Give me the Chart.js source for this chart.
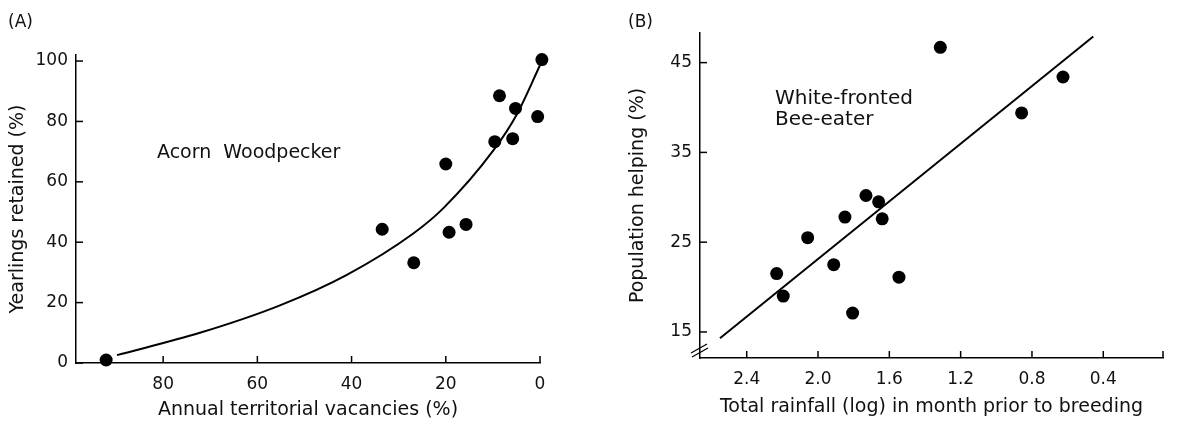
<!DOCTYPE html>
<html>
<head>
<meta charset="utf-8">
<script src="https://cdn.jsdelivr.net/npm/chart.js@4.4.1/dist/chart.umd.min.js"></script>
<style>
html,body{margin:0;padding:0;background:#fff;}
#wrap{position:relative;width:1181px;height:423px;overflow:hidden;background:#fff;}
#ca{position:absolute;left:0;top:0;}
#cb{position:absolute;left:590px;top:0;}
</style>
</head>
<body>
<div id="wrap">
<canvas id="ca" width="590" height="423"></canvas>
<canvas id="cb" width="591" height="423"></canvas>
</div>
<script>
// ---------- Panel A: Acorn Woodpecker ----------
const acornVacancies = [92.1, 33.5, 26.8, 20.0, 19.3, 15.7, 9.6, 8.6, 5.8, 5.2, 0.5, -0.4, -1.4];
const acornRetained  = [1.0, 44.3, 33.2, 65.9, 43.3, 45.9, 73.3, 88.5, 74.3, 84.3, 81.6, 100.5, 83.5];
// fitted curve
const acornCurveX = [89.8, 72.2, 55.2, 41.0, 26.9, 20.5, 9.9, 4.9, 0.0];
const acornCurveY = [2.6, 10.0, 19.1, 29.2, 42.9, 51.3, 70.4, 82.4, 98.6];
const acornXTicks = [80, 60, 40, 20, 0];
const acornYTicks = [0, 20, 40, 60, 80, 100];

// ---------- Panel B: White-fronted Bee-eater ----------
const beeRainfall = [2.232, 2.195, 2.058, 1.912, 1.849, 1.806, 1.731, 1.660, 1.640, 1.546, 1.314, 0.858, 0.626];
const beeHelping  = [21.5, 19.0, 25.5, 22.5, 27.8, 17.1, 30.2, 29.5, 27.6, 21.1, 46.7, 39.4, 43.4];
// regression line end points
const beeFitX = [2.55, 0.456];
const beeFitY = [14.3, 47.9];
const beeXTicks = [2.4, 2.0, 1.6, 1.2, 0.8, 0.4];
const beeYTicks = [15, 25, 35, 45];

const FONT = '"DejaVu Sans", "Open Sans", sans-serif';
const INK = '#111';

function pts(xs, ys){ return xs.map((x,i)=>({x:x, y:ys[i]})); }

const axisPlugin = {
  id: 'axisDecor',
  afterDraw(chart, args, opts){
    const ctx = chart.ctx, a = chart.chartArea;
    const xs = chart.scales.x, ys = chart.scales.y;
    ctx.save();
    ctx.strokeStyle = '#000';
    ctx.lineWidth = 1.5;
    const L = 7;
    xs.ticks.forEach(t=>{
      const px = xs.getPixelForValue(t.value);
      ctx.beginPath(); ctx.moveTo(px, a.bottom); ctx.lineTo(px, a.bottom - L); ctx.stroke();
    });
    ys.ticks.forEach(t=>{
      const py = ys.getPixelForValue(t.value);
      ctx.beginPath(); ctx.moveTo(a.left, py); ctx.lineTo(a.left + L, py); ctx.stroke();
    });
    if (opts.endHook){
      ctx.beginPath(); ctx.moveTo(a.right, a.bottom); ctx.lineTo(a.right, a.bottom - L); ctx.stroke();
    }
    if (opts.breakMark){
      ctx.lineWidth = 1.3;
      ctx.beginPath(); ctx.moveTo(a.left - 9, a.bottom - 5); ctx.lineTo(a.left + 7, a.bottom - 14); ctx.stroke();
      ctx.beginPath(); ctx.moveTo(a.left - 8, a.bottom - 1); ctx.lineTo(a.left + 8, a.bottom - 10); ctx.stroke();
    }
    ctx.fillStyle = INK;
    ctx.textBaseline = 'middle';
    ctx.textAlign = 'left';
    (opts.texts || []).forEach(t=>{
      ctx.font = t.size + 'px ' + FONT;
      ctx.fillText(t.text, t.x, t.y);
    });
    ctx.restore();
  }
};

function tickFont(){ return {family: FONT, size: 17}; }
function titleFont(){ return {family: FONT, size: 19}; }

Chart.defaults.color = INK;

// ---------- Chart A ----------
new Chart(document.getElementById('ca'), {
  type: 'scatter',
  data: {
    datasets: [
      {
        data: pts(acornCurveX, acornCurveY),
        showLine: true,
        borderColor: '#000',
        borderWidth: 2,
        pointRadius: 0,
        cubicInterpolationMode: 'monotone',
        clip: false
      },
      {
        data: pts(acornVacancies, acornRetained),
        backgroundColor: '#000',
        borderWidth: 0,
        pointRadius: 6.5,
        clip: false
      }
    ]
  },
  options: {
    responsive: false,
    animation: false,
    devicePixelRatio: 1,
    events: [],
    layout: {padding: {left: 0, top: 55, right: 50, bottom: 0}},
    plugins: {
      legend: {display: false},
      tooltip: {enabled: false},
      axisDecor: {
        texts: [
          {text: '(A)', x: 8, y: 23, size: 17},
          {text: 'Acorn  Woodpecker', x: 157, y: 153, size: 19}
        ]
      }
    },
    scales: {
      x: {
        type: 'linear', reverse: true, min: 0, max: 98.5,
        afterBuildTicks: s => { s.ticks = acornXTicks.map(v => ({value: v})); },
        afterFit: s => { s.height = 60; },
        grid: {display: false, drawTicks: false},
        border: {display: true, color: '#000', width: 1.5},
        ticks: {padding: 11, font: tickFont(), color: INK, maxRotation: 0, autoSkip: false},
        title: {display: true, text: 'Annual territorial vacancies (%)', font: titleFont(), color: INK, padding: {top: 0, bottom: 2}}
      },
      y: {
        type: 'linear', min: 0, max: 102,
        afterBuildTicks: s => { s.ticks = acornYTicks.map(v => ({value: v})); },
        afterFit: s => { s.width = 76; },
        grid: {display: false, drawTicks: false},
        border: {display: true, color: '#000', width: 1.5},
        ticks: {padding: 8, font: tickFont(), color: INK, autoSkip: false},
        title: {display: true, text: 'Yearlings retained (%)', font: titleFont(), color: INK, padding: {top: 7, bottom: 0}}
      }
    }
  },
  plugins: [axisPlugin]
});

// ---------- Chart B ----------
new Chart(document.getElementById('cb'), {
  type: 'scatter',
  data: {
    datasets: [
      {
        data: pts(beeFitX, beeFitY),
        showLine: true,
        borderColor: '#000',
        borderWidth: 2,
        pointRadius: 0,
        tension: 0,
        clip: false
      },
      {
        data: pts(beeRainfall, beeHelping),
        backgroundColor: '#000',
        borderWidth: 0,
        pointRadius: 6.5,
        clip: false
      }
    ]
  },
  options: {
    responsive: false,
    animation: false,
    devicePixelRatio: 1,
    events: [],
    layout: {padding: {left: 0, top: 33, right: 18, bottom: 0}},
    plugins: {
      legend: {display: false},
      tooltip: {enabled: false},
      axisDecor: {
        endHook: true,
        breakMark: true,
        texts: [
          {text: '(B)', x: 38, y: 23, size: 17},
          {text: 'White-fronted', x: 185, y: 99, size: 20},
          {text: 'Bee-eater', x: 185, y: 120, size: 20}
        ]
      }
    },
    scales: {
      x: {
        type: 'linear', reverse: true, min: 0.065, max: 2.662,
        afterBuildTicks: s => { s.ticks = beeXTicks.map(v => ({value: v})); },
        afterFit: s => { s.height = 65; },
        grid: {display: false, drawTicks: false},
        border: {display: true, color: '#000', width: 1.5},
        ticks: {padding: 11, font: tickFont(), color: INK, maxRotation: 0, autoSkip: false,
                callback: v => Number(v).toFixed(1)},
        title: {display: true, text: 'Total rainfall (log) in month prior to breeding', font: titleFont(), color: INK, padding: {top: 0, bottom: 5}}
      },
      y: {
        type: 'linear', min: 12.1, max: 48.3,
        afterBuildTicks: s => { s.ticks = beeYTicks.map(v => ({value: v})); },
        afterFit: s => { s.width = 110; },
        grid: {display: false, drawTicks: false},
        border: {display: true, color: '#000', width: 1.5},
        ticks: {padding: 8, font: tickFont(), color: INK, autoSkip: false},
        title: {display: true, text: 'Population helping (%)', font: titleFont(), color: INK, padding: {top: 37, bottom: 0}}
      }
    }
  },
  plugins: [axisPlugin]
});
</script>
</body>
</html>
